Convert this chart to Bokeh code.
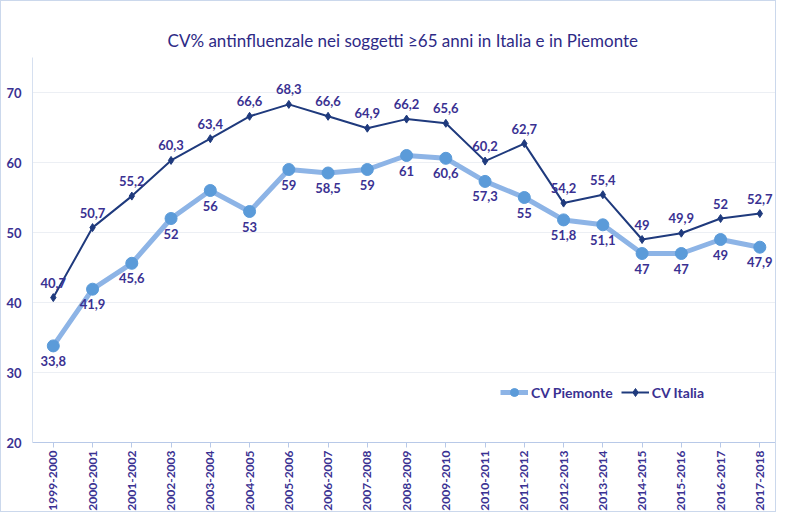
from bokeh.plotting import figure
from bokeh.models import ColumnDataSource, Range1d, FixedTicker, Legend, LegendItem, LabelSet
from bokeh.embed import file_html
from bokeh.resources import INLINE
from bokeh.core.properties import value

seasons = ["1999-2000", "2000-2001", "2001-2002", "2002-2003", "2003-2004", "2004-2005",
           "2005-2006", "2006-2007", "2007-2008", "2008-2009", "2009-2010", "2010-2011",
           "2011-2012", "2012-2013", "2013-2014", "2014-2015", "2015-2016", "2016-2017",
           "2017-2018"]
cv_italia = [40.7, 50.7, 55.2, 60.3, 63.4, 66.6, 68.3, 66.6, 64.9, 66.2, 65.6, 60.2,
             62.7, 54.2, 55.4, 49, 49.9, 52, 52.7]
cv_piemonte = [33.8, 41.9, 45.6, 52, 56, 53, 59, 58.5, 59, 61, 60.6, 57.3,
               55, 51.8, 51.1, 47, 47, 49, 47.9]
y_ticks = [20, 30, 40, 50, 60, 70]

def fmt(v):
    s = ("%g" % v)
    return s.replace(".", ",")

idx = list(range(len(seasons)))
src_it = ColumnDataSource(dict(x=idx, season=seasons, y=cv_italia, lab=[fmt(v) for v in cv_italia]))
src_pi = ColumnDataSource(dict(x=idx, season=seasons, y=cv_piemonte, lab=[fmt(v) for v in cv_piemonte]))

TXT = "#3a3192"
FONT = "Lato"

p = figure(x_range=Range1d(-0.53, len(seasons) - 0.55), y_range=Range1d(20, 75),
           width=776, height=512,
           output_backend="svg", toolbar_location=None,
           title="CV%  antinfluenzale nei soggetti \u226565 anni in Italia e in Piemonte",
           min_border_left=31, min_border_right=0, min_border_top=56, min_border_bottom=70)

p.title.align = "center"
p.title.text_color = "#2e2a86"
p.title.text_font = FONT
p.title.text_font_size = "17px"
p.title.text_font_style = "normal"
p.title.standoff = 14

p.outline_line_color = None
p.styles = {"border": "1px solid #cbd8ec"}

p.xgrid.grid_line_color = None
p.ygrid.grid_line_color = "#eceff4"
p.ygrid.ticker = FixedTicker(ticks=y_ticks)

p.yaxis.ticker = FixedTicker(ticks=y_ticks)
p.yaxis.axis_line_color = "#d6e0f0"
p.yaxis.major_tick_line_color = None
p.yaxis.minor_tick_line_color = None
p.yaxis.major_label_text_color = TXT
p.yaxis.major_label_text_font = FONT
p.yaxis.major_label_text_font_size = "13px"
p.yaxis.major_label_text_font_style = "bold"

p.xaxis.ticker = FixedTicker(ticks=idx)
p.xaxis.major_label_overrides = {i: s for i, s in zip(idx, seasons)}
p.xaxis.minor_tick_line_color = None
p.xaxis.axis_line_color = "#b8c9e8"
p.xaxis.major_tick_line_color = "#b8c9e8"
p.xaxis.major_tick_out = 5
p.xaxis.major_tick_in = 0
p.xaxis.major_label_standoff = 3
p.xaxis.major_label_orientation = 1.5708
p.xaxis.major_label_text_color = TXT
p.xaxis.major_label_text_font = FONT
p.xaxis.major_label_text_font_size = "12px"
p.xaxis.major_label_text_font_style = "bold"

l_pi = p.line("x", "y", source=src_pi, line_color="#8db4e6", line_width=5)
s_pi = p.scatter("x", "y", source=src_pi, marker="circle", size=12,
                 fill_color="#5b9bd9", line_color="#5b9bd9")
l_it = p.line("x", "y", source=src_it, line_color="#1f3a7d", line_width=2)
s_it = p.scatter("x", "y", source=src_it, marker="diamond", size=8,
                 fill_color="#1f3a7d", line_color="#1f3a7d")

lab_it = LabelSet(x="x", y="y", text="lab", source=src_it, y_offset=10,
                  text_align="center", text_baseline="bottom", text_color=TXT,
                  text_font=value(FONT), text_font_size="13px", text_font_style="bold")
lab_pi = LabelSet(x="x", y="y", text="lab", source=src_pi, y_offset=-10,
                  text_align="center", text_baseline="top", text_color=TXT,
                  text_font=value(FONT), text_font_size="13px", text_font_style="bold")
p.add_layout(lab_it)
p.add_layout(lab_pi)

legend = Legend(items=[LegendItem(label="CV Piemonte", renderers=[l_pi, s_pi]),
                       LegendItem(label="CV Italia", renderers=[l_it, s_it])],
                orientation="horizontal", location=(468, 40),
                border_line_color=None, background_fill_alpha=0,
                label_text_color=TXT, label_text_font=FONT, label_text_font_size="14px",
                label_text_font_style="bold", glyph_width=28, spacing=8,
                label_standoff=3)
p.add_layout(legend)

open("out.html", "w").write(file_html(p, INLINE))
